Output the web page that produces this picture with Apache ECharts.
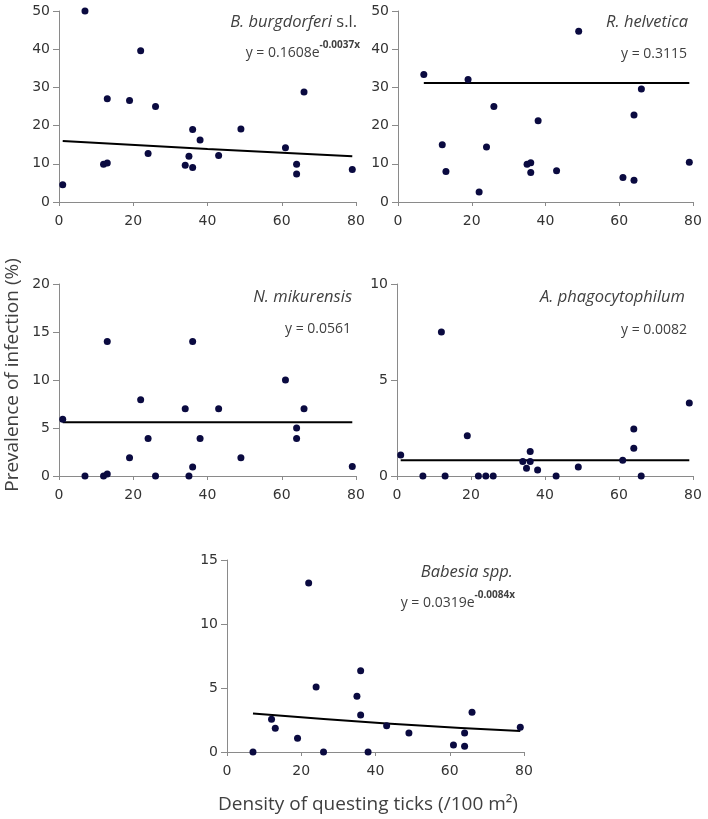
<!DOCTYPE html>
<html>
<head>
<meta charset="utf-8">
<script src="https://cdn.jsdelivr.net/npm/echarts@6/dist/echarts.min.js"></script>
<style>
html,body{margin:0;padding:0;background:#fff;}
#c{width:708px;height:819px;}
</style>
</head>
<body>
<div id="c"></div>
<script>
// ---- Data ----
const xTicks = [0, 20, 40, 60, 80];

// B. burgdorferi s.l.
const xBb = [1, 7, 12, 13, 13, 19, 22, 24, 26, 34, 35, 36, 36, 38, 43, 49, 61, 64, 64, 66, 79];
const yBb = [4.5, 50, 9.9, 10.2, 27, 26.6, 39.6, 12.7, 25, 9.6, 12, 19, 9, 16.2, 12.2, 19.1, 14.2, 9.9, 7.3, 28.8, 8.5];
const trendBb = [[1, 16.0], [40, 13.9], [79, 12.0]];

// R. helvetica
const xRh = [7, 12, 13, 19, 22, 24, 26, 35, 36, 36, 38, 43, 49, 61, 64, 64, 66, 79];
const yRh = [33.4, 15, 8, 32.1, 2.6, 14.4, 25, 9.9, 10.3, 7.7, 21.3, 8.2, 44.7, 6.4, 22.8, 5.7, 29.6, 10.4];
const trendRh = [[7, 31.15], [79, 31.15]];

// N. mikurensis
const xNm = [1, 7, 12, 13, 13, 19, 22, 24, 26, 34, 35, 36, 36, 38, 43, 49, 61, 64, 64, 66, 79];
const yNm = [5.9, 0, 0, 0.2, 14, 1.9, 7.95, 3.9, 0, 7, 0, 14, 0.94, 3.9, 7, 1.9, 10, 5, 3.9, 7, 1];
const trendNm = [[1, 5.61], [79, 5.61]];

// A. phagocytophilum
const xAp = [1, 7, 12, 13, 19, 22, 24, 26, 34, 35, 36, 36, 38, 43, 49, 61, 64, 64, 66, 79];
const yAp = [1.1, 0, 7.5, 0, 2.1, 0, 0, 0, 0.75, 0.4, 1.27, 0.75, 0.31, 0, 0.47, 0.82, 2.45, 1.44, 0, 3.8];
const trendAp = [[1, 0.82], [79, 0.82]];

// Babesia spp.
const xBa = [7, 12, 13, 19, 22, 24, 26, 35, 36, 36, 38, 43, 49, 61, 64, 64, 66, 79];
const yBa = [0, 2.55, 1.85, 1.07, 13.2, 5.08, 0, 4.35, 6.35, 2.9, 0, 2.06, 1.48, 0.55, 1.48, 0.44, 3.1, 1.93];
const trendBa = [[7, 3.0], [43, 2.23], [79, 1.64]];

const yMax = [50, 50, 20, 10, 15];
const yInterval = [10, 10, 5, 5, 5];

const speciesNames = ['B. burgdorferi', 'R. helvetica', 'N. mikurensis', 'A. phagocytophilum', 'Babesia spp.'];
const equations = [['y = 0.1608e', '-0.0037x'], ['y = 0.3115', ''], ['y = 0.0561', ''], ['y = 0.0082', ''], ['y = 0.0319e', '-0.0084x']];
const xTitle = 'Density of questing ticks (/100 m²)';
const yTitle = 'Prevalence of infection (%)';

// ---- Layout ----
const grids = [
  {left: 59, top: 11, width: 297, height: 191},
  {left: 398, top: 11, width: 295, height: 191},
  {left: 59, top: 284, width: 297, height: 192},
  {left: 397, top: 284, width: 296, height: 192},
  {left: 227, top: 560, width: 297, height: 192}
];
const speciesPos = [
  {right: 351, top: 11}, {right: 20, top: 11}, {right: 356, top: 286}, {right: 23, top: 286}, {right: 195, top: 561}
];
const eqPos = [
  {right: 348, top: 40}, {right: 21, top: 41}, {right: 357, top: 316}, {right: 21, top: 317}, {right: 193, top: 590}
];

const xs = [xBb, xRh, xNm, xAp, xBa];
const ys = [yBb, yRh, yNm, yAp, yBa];
const trends = [trendBb, trendRh, trendNm, trendAp, trendBa];

const axisColor = '#8a8a8a';
const labelColor = '#333333';
const textColor = '#404040';
const dotColor = '#0a0a40';

const xAxes = [], yAxes = [], series = [], titles = [];
for (let i = 0; i < 5; i++) {
  xAxes.push({
    type: 'value', gridIndex: i, min: xTicks[0], max: xTicks[xTicks.length - 1], interval: 20,
    axisLine: {show: true, onZero: false, lineStyle: {color: axisColor, width: 1}},
    axisTick: {show: true, length: 4, lineStyle: {color: axisColor}},
    axisLabel: {color: labelColor, fontFamily: 'DejaVu Sans', fontSize: 14, margin: 12},
    splitLine: {show: false}
  });
  yAxes.push({
    type: 'value', gridIndex: i, min: 0, max: yMax[i], interval: yInterval[i],
    axisLine: {show: true, lineStyle: {color: axisColor, width: 1}},
    axisTick: {show: true, length: 6, lineStyle: {color: axisColor}},
    axisLabel: {color: labelColor, fontFamily: 'DejaVu Sans', fontSize: 14, margin: 9},
    splitLine: {show: false}
  });
  series.push({
    type: 'line', xAxisIndex: i, yAxisIndex: i, data: trends[i], smooth: true,
    showSymbol: false, lineStyle: {color: '#000', width: 2}, z: 2, silent: true
  });
  series.push({
    type: 'scatter', xAxisIndex: i, yAxisIndex: i,
    data: xs[i].map((x, k) => [x, ys[i][k]]),
    symbolSize: 7, itemStyle: {color: dotColor, opacity: 1}, z: 3
  });
  const nameText = i === 0 ? '{i|' + speciesNames[i] + '}{n| s.l.}' : '{i|' + speciesNames[i] + '}';
  titles.push({
    text: nameText, right: speciesPos[i].right, top: speciesPos[i].top, padding: 0,
    textStyle: {fontWeight: 'normal', fontFamily: 'Open Sans', fontSize: 16.5, color: textColor, rich: {
      i: {fontFamily: 'Open Sans', fontStyle: 'italic', fontWeight: 'normal', fontSize: 16.5, color: textColor, lineHeight: 22},
      n: {fontFamily: 'Open Sans', fontWeight: 'normal', fontSize: 16.5, color: textColor, lineHeight: 22}
    }}
  });
  const eq = equations[i];
  const eqText = '{m|' + eq[0] + '}' + (eq[1] ? '{s|' + eq[1] + '}' : '');
  titles.push({
    text: eqText, right: eqPos[i].right, top: eqPos[i].top, padding: 0,
    textStyle: {fontWeight: 'normal', fontFamily: 'Open Sans', fontSize: 14, color: textColor, rich: {
      m: {fontFamily: 'Open Sans', fontWeight: 'normal', fontSize: 14, color: textColor, lineHeight: 20, verticalAlign: 'bottom'},
      s: {fontFamily: 'Open Sans', fontWeight: 'bold', fontSize: 10, color: textColor, lineHeight: 12, verticalAlign: 'top'}
    }}
  });
}

const option = {
  animation: false,
  backgroundColor: '#fff',
  title: titles,
  grid: grids.map(g => Object.assign({containLabel: false, outerBoundsMode: 'none'}, g)),
  xAxis: xAxes,
  yAxis: yAxes,
  series: series,
  graphic: [
    {type: 'text', x: 368, y: 805, style: {text: xTitle, fontFamily: 'Open Sans', fontSize: 19, fill: textColor, align: 'center', verticalAlign: 'middle'}},
    {type: 'text', x: 12.5, y: 375, rotation: Math.PI / 2, style: {text: yTitle, fontFamily: 'Open Sans', fontSize: 19, fill: textColor, align: 'center', verticalAlign: 'middle'}}
  ]
};

const chart = echarts.init(document.getElementById('c'), null, {renderer: 'canvas'});
chart.setOption(option);
</script>
</body>
</html>
